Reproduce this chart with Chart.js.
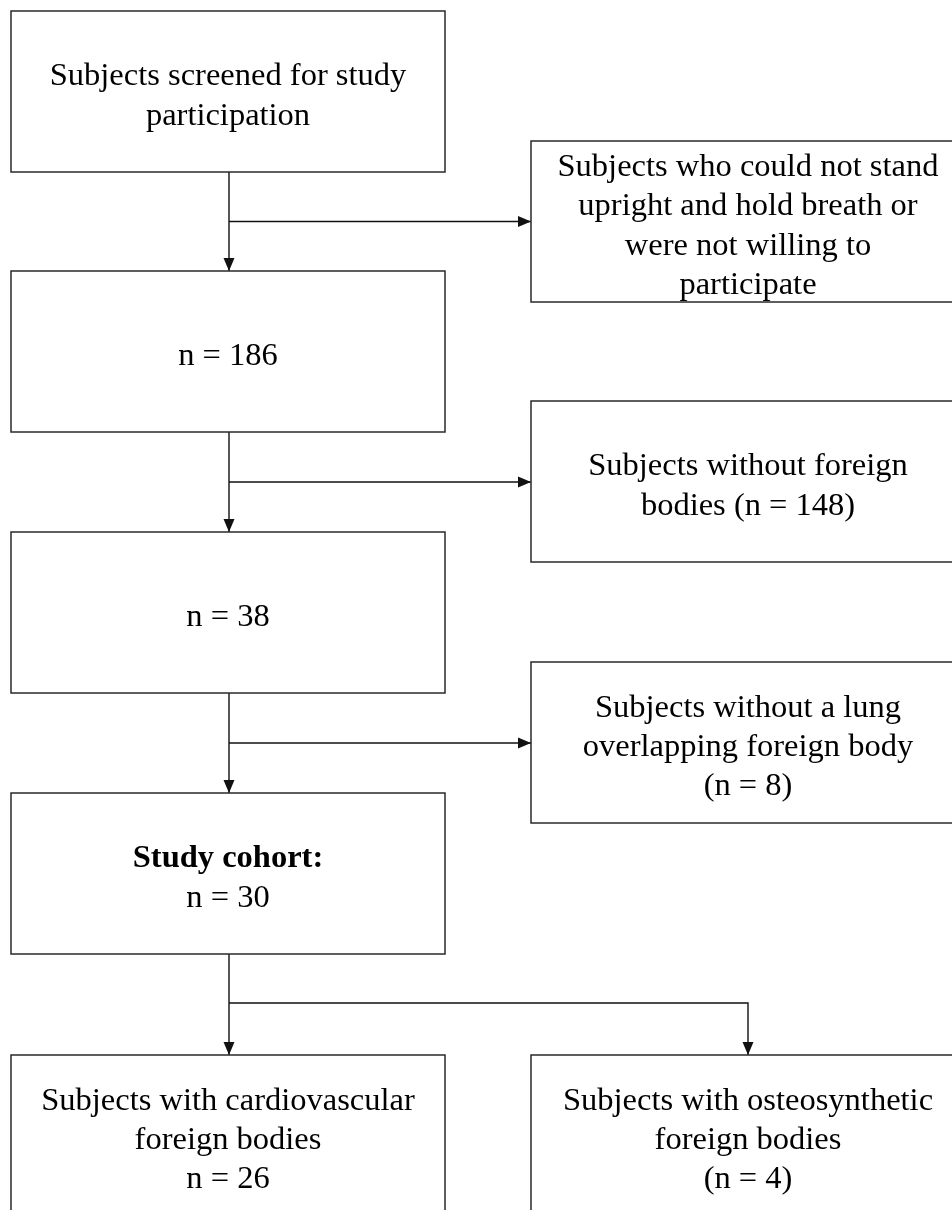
<!DOCTYPE html>
<html>
<head>
<meta charset="utf-8">
<script src="https://cdn.jsdelivr.net/npm/chart.js@4.4.1/dist/chart.umd.min.js"></script>
<style>
  html, body { margin: 0; padding: 0; background: #fff; }
  canvas { display: block; }
</style>
</head>
<body>
<canvas id="flow" width="952" height="1210"></canvas>
<script>
// flow chart content
const mainLines = [
    ['Subjects screened for study', 'participation'],
    ['n = 186'],
    ['n = 38'],
    ['Study cohort:', 'n = 30']
];
const mainBold = [[], [], [], [0]];   // which lines are bold
const excludedLines = [
    ['Subjects who could not stand', 'upright and hold breath or', 'were not willing to', 'participate'],
    ['Subjects without foreign', 'bodies (n = 148)'],
    ['Subjects without a lung', 'overlapping foreign body', '(n = 8)']
];
const subgroupLines = [
    ['Subjects with cardiovascular', 'foreign bodies', 'n = 26'],
    ['Subjects with osteosynthetic', 'foreign bodies', '(n = 4)']
];

// layout (page units == pixels)
const boxW = 434, boxH = 161;
const leftX = 11, rightX = 531;
const rowTop = [11, 271, 532, 793, 1055];
const sideOffset = 130;
const lineGap = 39.3;
const fontSize = 32.5;
const ink = '#111';
const fontFamily = '"Liberation Serif", "Times New Roman", serif';

const boxes = [];
mainLines.forEach((lines, i) => boxes.push({ x: leftX, y: rowTop[i], lines, bold: mainBold[i] }));
excludedLines.forEach((lines, i) => boxes.push({ x: rightX, y: rowTop[i] + sideOffset, lines, bold: [] }));
subgroupLines.forEach((lines, i) => boxes.push({ x: i === 0 ? leftX : rightX, y: rowTop[4], lines, bold: [] }));

const leftMid = leftX + boxW / 2 + 1;
const rightMid = rightX + boxW / 2;

// connectors: each one is a polyline, arrow at the end
const connectors = [];
for (let i = 0; i < 4; i++) {
    const top = rowTop[i] + boxH, bottom = rowTop[i + 1];
    connectors.push([{ x: leftMid, y: top }, { x: leftMid, y: bottom }]);
    if (i < 3) {
        const midY = (top + bottom) / 2;
        connectors.push([{ x: leftMid, y: midY }, { x: rightX, y: midY }]);
    } else {
        const midY = (top + bottom) / 2 - 1.5;
        connectors.push([{ x: leftMid, y: midY }, { x: rightMid, y: midY }, { x: rightMid, y: bottom }]);
    }
}

const boxPlugin = {
    id: 'boxes',
    afterDatasetsDraw(chart) {
        const { ctx, scales } = chart;
        const sx = v => scales.x.getPixelForValue(v);
        const sy = v => scales.y.getPixelForValue(v);
        ctx.save();

        // arrow heads
        ctx.fillStyle = ink;
        connectors.forEach(pts => {
            const a = pts[pts.length - 2], b = pts[pts.length - 1];
            const x1 = sx(a.x), y1 = sy(a.y), x2 = sx(b.x), y2 = sy(b.y);
            const ang = Math.atan2(y2 - y1, x2 - x1);
            const len = 13, half = 5.5;
            ctx.beginPath();
            ctx.moveTo(x2, y2);
            ctx.lineTo(x2 - len * Math.cos(ang) + half * Math.sin(ang), y2 - len * Math.sin(ang) - half * Math.cos(ang));
            ctx.lineTo(x2 - len * Math.cos(ang) - half * Math.sin(ang), y2 - len * Math.sin(ang) + half * Math.cos(ang));
            ctx.closePath();
            ctx.fill();
        });

        // boxes and text
        boxes.forEach(b => {
            const x = sx(b.x), y = sy(b.y);
            const w = sx(b.x + boxW) - x, h = sy(b.y + boxH) - y;
            ctx.fillStyle = '#fff';
            ctx.fillRect(x, y, w, h);
            ctx.strokeStyle = '#2a2a2a';
            ctx.lineWidth = 1.5;
            ctx.strokeRect(x, y, w, h);

            ctx.fillStyle = '#000';
            ctx.textAlign = 'center';
            ctx.textBaseline = 'middle';
            const cy = y + h / 2 + 5 - (b.lines.length - 1) * lineGap / 2;
            b.lines.forEach((t, k) => {
                ctx.font = (b.bold.includes(k) ? 'bold ' : '') + fontSize + 'px ' + fontFamily;
                ctx.fillText(t, x + w / 2, cy + k * lineGap);
            });
        });
        ctx.restore();
    }
};

new Chart(document.getElementById('flow'), {
    type: 'scatter',
    data: {
        datasets: connectors.map(pts => ({
            data: pts,
            showLine: true,
            borderColor: ink,
            borderWidth: 1.4,
            pointRadius: 0,
            fill: false,
            tension: 0
        }))
    },
    options: {
        responsive: false,
        animation: false,
        layout: { padding: 0 },
        plugins: { legend: { display: false }, tooltip: { enabled: false } },
        scales: {
            x: { type: 'linear', min: 0, max: 952, display: false },
            y: { type: 'linear', min: 0, max: 1210, reverse: true, display: false }
        }
    },
    plugins: [boxPlugin]
});
</script>
</body>
</html>
